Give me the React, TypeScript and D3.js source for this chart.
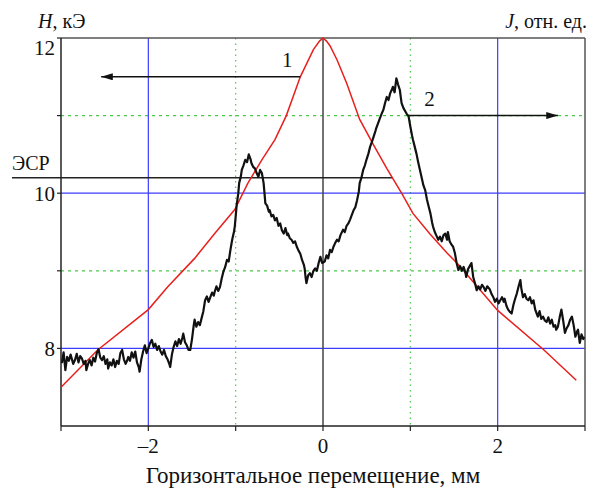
import React from 'react';
import * as d3 from 'd3';

// field profile H (curve 1) and EPR signal J (curve 2) vs horizontal shift
const xMajorTicks = [-2, 0, 2];
const xMinorTicks = [-1, 1];
const xEdgeTicks = [-3, 3];
const yMajorTicks = [8, 10, 12];
const yMinorTicks = [9, 11];
const esrLevel = 10.2;

const fieldH: [number, number][] = [
  [-3, 7.5], [-2.58, 7.98], [-2, 8.5], [-1.78, 8.79], [-1.47, 9.16], [-1.24, 9.48],
  [-1.01, 9.79], [-0.86, 10.13], [-0.7, 10.43], [-0.55, 10.69], [-0.42, 11.0],
  [-0.26, 11.5], [-0.11, 11.85], [-0.04, 11.96], [0, 12], [0.04, 11.96], [0.08, 11.9],
  [0.16, 11.72], [0.27, 11.42], [0.42, 10.95], [0.58, 10.62], [0.73, 10.32], [0.9, 10.0],
  [1.03, 9.74], [1.22, 9.48], [1.42, 9.23], [1.55, 9.08], [2.0, 8.49], [2.53, 7.98], [2.9, 7.59],
];

// J in relative units, drawn on the same vertical span as H
const signalJ: [number, number][] = [
  [-2.99, 7.81], [-2.97, 7.95], [-2.95, 7.72], [-2.93, 7.89], [-2.91, 7.84], [-2.89, 7.92],
  [-2.86, 7.8], [-2.84, 7.85], [-2.82, 7.93], [-2.8, 7.82], [-2.78, 7.9], [-2.76, 7.87],
  [-2.74, 7.8], [-2.72, 7.84], [-2.71, 7.72], [-2.69, 7.8], [-2.67, 7.85], [-2.65, 7.78],
  [-2.63, 7.88], [-2.61, 7.83], [-2.59, 7.94], [-2.57, 7.99], [-2.55, 7.88], [-2.53, 7.85],
  [-2.51, 7.9], [-2.49, 7.8], [-2.47, 7.86], [-2.46, 7.74], [-2.44, 7.82], [-2.42, 7.78],
  [-2.4, 7.86], [-2.38, 7.76], [-2.36, 7.84], [-2.34, 7.8], [-2.32, 7.94], [-2.3, 7.98],
  [-2.28, 7.86], [-2.26, 7.8], [-2.24, 7.85], [-2.23, 7.89], [-2.21, 7.84], [-2.19, 7.95],
  [-2.17, 7.88], [-2.15, 7.96], [-2.13, 7.82], [-2.11, 7.76], [-2.1, 7.7], [-2.08, 7.86],
  [-2.06, 7.96], [-2.04, 8.04], [-2.02, 7.94], [-2.0, 8.0], [-1.98, 8.07], [-1.96, 8.11],
  [-1.94, 8.02], [-1.92, 8.06], [-1.9, 7.98], [-1.88, 8.03], [-1.86, 7.96], [-1.84, 7.92],
  [-1.82, 7.98], [-1.8, 7.9], [-1.78, 7.86], [-1.76, 7.8], [-1.75, 7.76], [-1.73, 7.92],
  [-1.71, 8.02], [-1.69, 8.09], [-1.67, 8.03], [-1.65, 8.12], [-1.63, 8.06], [-1.61, 8.14],
  [-1.6, 8.19], [-1.58, 8.08], [-1.56, 8.04], [-1.54, 7.98], [-1.52, 7.98], [-1.5, 8.12],
  [-1.48, 8.3], [-1.47, 8.37], [-1.45, 8.28], [-1.43, 8.34], [-1.41, 8.3], [-1.39, 8.39],
  [-1.37, 8.48], [-1.35, 8.62], [-1.33, 8.67], [-1.31, 8.6], [-1.29, 8.66], [-1.27, 8.72],
  [-1.25, 8.68], [-1.24, 8.73], [-1.22, 8.8], [-1.2, 8.74], [-1.18, 8.79], [-1.16, 8.9],
  [-1.14, 8.99], [-1.12, 9.05], [-1.1, 9.14], [-1.08, 9.12], [-1.06, 9.27], [-1.04, 9.4],
  [-1.02, 9.5], [-1.01, 9.57], [-0.99, 9.83], [-0.97, 10.0], [-0.96, 10.13], [-0.94, 10.22],
  [-0.93, 10.3], [-0.91, 10.36], [-0.89, 10.43], [-0.87, 10.4], [-0.85, 10.5], [-0.83, 10.44],
  [-0.82, 10.39], [-0.8, 10.34], [-0.78, 10.32], [-0.76, 10.26], [-0.74, 10.21], [-0.72, 10.3],
  [-0.7, 10.26], [-0.68, 10.13], [-0.67, 10.0], [-0.66, 9.87], [-0.64, 9.84], [-0.62, 9.76],
  [-0.61, 9.78], [-0.59, 9.7], [-0.57, 9.72], [-0.55, 9.65], [-0.53, 9.68], [-0.51, 9.58],
  [-0.49, 9.61], [-0.47, 9.52], [-0.45, 9.48], [-0.43, 9.55], [-0.41, 9.46], [-0.4, 9.48],
  [-0.38, 9.42], [-0.36, 9.4], [-0.34, 9.36], [-0.32, 9.38], [-0.3, 9.31], [-0.28, 9.26],
  [-0.26, 9.22], [-0.24, 9.14], [-0.22, 9.08], [-0.21, 9.03], [-0.2, 8.92], [-0.19, 8.84],
  [-0.17, 8.94], [-0.15, 8.97], [-0.13, 8.92], [-0.11, 9.0], [-0.09, 9.03], [-0.07, 9.0],
  [-0.05, 9.1], [-0.03, 9.18], [-0.01, 9.1], [0.02, 9.12], [0.04, 9.2], [0.06, 9.16],
  [0.08, 9.27], [0.1, 9.24], [0.12, 9.31], [0.14, 9.36], [0.16, 9.4], [0.18, 9.38],
  [0.2, 9.46], [0.23, 9.53], [0.25, 9.5], [0.27, 9.58], [0.29, 9.61], [0.31, 9.66],
  [0.33, 9.72], [0.35, 9.78], [0.37, 9.82], [0.39, 9.91], [0.41, 10.02], [0.42, 10.13],
  [0.44, 10.2], [0.46, 10.3], [0.48, 10.36], [0.5, 10.44], [0.52, 10.51], [0.54, 10.6],
  [0.56, 10.66], [0.58, 10.73], [0.6, 10.8], [0.61, 10.84], [0.63, 10.9], [0.65, 10.96],
  [0.67, 11.02], [0.69, 11.07], [0.71, 11.16], [0.73, 11.24], [0.75, 11.2], [0.77, 11.29],
  [0.79, 11.34], [0.8, 11.37], [0.82, 11.3], [0.84, 11.48], [0.86, 11.4], [0.88, 11.33],
  [0.89, 11.24], [0.9, 11.16], [0.92, 11.1], [0.94, 11.06], [0.96, 11.02], [0.98, 10.99],
  [1.0, 10.86], [1.02, 10.74], [1.03, 10.69], [1.05, 10.6], [1.07, 10.51], [1.09, 10.4],
  [1.11, 10.3], [1.13, 10.2], [1.15, 10.1], [1.17, 10.04], [1.19, 9.92], [1.21, 9.83],
  [1.23, 9.74], [1.25, 9.62], [1.26, 9.57], [1.28, 9.5], [1.3, 9.45], [1.32, 9.4],
  [1.34, 9.44], [1.36, 9.38], [1.38, 9.46], [1.4, 9.48], [1.42, 9.4], [1.43, 9.5],
  [1.45, 9.38], [1.47, 9.34], [1.49, 9.31], [1.51, 9.23], [1.53, 9.1], [1.55, 9.01],
  [1.57, 9.06], [1.59, 9.0], [1.61, 9.05], [1.63, 8.98], [1.64, 8.92], [1.66, 9.02],
  [1.68, 9.06], [1.7, 9.1], [1.72, 8.92], [1.74, 8.84], [1.76, 8.75], [1.78, 8.8],
  [1.8, 8.76], [1.82, 8.82], [1.84, 8.79], [1.86, 8.74], [1.88, 8.8], [1.89, 8.79],
  [1.91, 8.76], [1.93, 8.7], [1.95, 8.66], [1.97, 8.6], [1.99, 8.64], [2.01, 8.58],
  [2.03, 8.62], [2.05, 8.66], [2.07, 8.6], [2.08, 8.64], [2.1, 8.55], [2.12, 8.5],
  [2.14, 8.47], [2.16, 8.45], [2.18, 8.56], [2.2, 8.64], [2.22, 8.71], [2.24, 8.8],
  [2.26, 8.88], [2.27, 8.78], [2.29, 8.66], [2.31, 8.7], [2.33, 8.64], [2.35, 8.62],
  [2.37, 8.66], [2.39, 8.58], [2.41, 8.62], [2.43, 8.5], [2.45, 8.44], [2.46, 8.41],
  [2.48, 8.48], [2.5, 8.38], [2.52, 8.41], [2.54, 8.36], [2.56, 8.34], [2.58, 8.4],
  [2.6, 8.32], [2.62, 8.37], [2.64, 8.28], [2.66, 8.3], [2.67, 8.24], [2.69, 8.28],
  [2.71, 8.4], [2.73, 8.5], [2.75, 8.36], [2.77, 8.2], [2.79, 8.26], [2.81, 8.3],
  [2.83, 8.37], [2.85, 8.41], [2.87, 8.3], [2.89, 8.15], [2.91, 8.22], [2.92, 8.24],
  [2.94, 8.07], [2.96, 8.18], [2.98, 8.12], [2.99, 8.15],
];

const W = 595;
const H = 489;
const font = 'Liberation Serif, Times New Roman, DejaVu Serif, Noto Serif, serif';

export default function App() {
  const x = d3.scaleLinear().domain([-3, 3]).range([61, 585]);
  const y = d3.scaleLinear().domain([7, 12]).range([426, 38]);
  const yJ = y.copy();
  const [x0, x1] = x.range();
  const [yb, yt] = y.range();

  const redLine = d3.line<[number, number]>().x((d) => x(d[0])).y((d) => y(d[1]));
  const blackLine = d3.line<[number, number]>().x((d) => x(d[0])).y((d) => yJ(d[1]));

  const blue = '#3c3cff';
  const green = '#4cc94c';
  const txt = { style: { fontFamily: font }, fill: '#111' };

  return (
    <svg width={W} height={H} style={{ position: 'absolute', left: 0, top: 0, background: '#fff', fontFamily: font }}>
      <defs>
        <marker id="ah" viewBox="0 0 10 6" refX="10" refY="3" markerWidth="12" markerHeight="7" markerUnits="userSpaceOnUse" orient="auto">
          <path d="M0,0 L10,3 L0,6 Z" fill="#111" />
        </marker>
      </defs>

      {/* grid */}
      {xMinorTicks.map((t) => (
        <line key={'gx' + t} x1={x(t)} x2={x(t)} y1={yt} y2={yb} stroke={green} strokeWidth={1.2} strokeDasharray="1.5 4" />
      ))}
      {yMinorTicks.map((t) => (
        <line key={'gy' + t} x1={x0} x2={x1} y1={y(t)} y2={y(t)} stroke={green} strokeWidth={1.2} strokeDasharray="3 4" />
      ))}
      {xMajorTicks.filter((t) => t !== 0).map((t) => (
        <line key={'bx' + t} x1={x(t)} x2={x(t)} y1={yt} y2={yb} stroke={blue} strokeWidth={1.2} />
      ))}
      {yMajorTicks.filter((t) => t !== 12).map((t) => (
        <line key={'by' + t} x1={x0} x2={x1} y1={y(t)} y2={y(t)} stroke={blue} strokeWidth={1.2} />
      ))}
      <line x1={x(0)} x2={x(0)} y1={yt} y2={yb} stroke="#444" strokeWidth={1.5} />

      {/* frame */}
      <line x1={x0} x2={x1} y1={yt} y2={yt} stroke="#555" strokeWidth={1.5} />
      <line x1={x1} x2={x1} y1={yt} y2={yb} stroke="#555" strokeWidth={1.5} />
      <line x1={x0} x2={x0} y1={yt} y2={yb} stroke="#222" strokeWidth={1.5} />
      <line x1={x0} x2={x1} y1={yb} y2={yb} stroke="#222" strokeWidth={1.5} />

      {/* ticks */}
      {[...xEdgeTicks, ...xMajorTicks, ...xMinorTicks].map((t) => (
        <line key={'tx' + t} x1={x(t)} x2={x(t)} y1={yb} y2={yb + 5} stroke="#222" strokeWidth={1.2} />
      ))}
      {[...yMajorTicks, ...yMinorTicks].map((t) => (
        <line key={'ty' + t} x1={x0 - 4} x2={x0} y1={y(t)} y2={y(t)} stroke="#222" strokeWidth={1.2} />
      ))}
      {xMajorTicks.map((t) => (
        <text key={'lx' + t} x={x(t)} y={yb + 27} textAnchor="middle" fontSize={21} {...txt}>
          {t < 0 ? '\u2013' + Math.abs(t) : t}
        </text>
      ))}
      {yMajorTicks.map((t) => (
        <text key={'ly' + t} x={x0 - 6} y={y(t) + (t === 12 ? 17 : 8)} textAnchor="end" fontSize={21} {...txt}>
          {t}
        </text>
      ))}

      {/* ESR level */}
      <line x1={12} x2={x(0.8)} y1={y(esrLevel)} y2={y(esrLevel)} stroke="#222" strokeWidth={1.6} />
      <text x={12} y={y(esrLevel) - 8} fontSize={20} {...txt}>ЭСР</text>

      {/* curves */}
      <path d={redLine(fieldH) ?? ''} fill="none" stroke="#e8201c" strokeWidth={1.5} />
      <path d={blackLine(signalJ) ?? ''} fill="none" stroke="#111" strokeWidth={2.2} strokeLinejoin="round" />

      {/* curve arrows */}
      <line x1={x(-0.26)} x2={x(-2.54)} y1={y(11.5)} y2={y(11.5)} stroke="#111" strokeWidth={1.5} markerEnd="url(#ah)" />
      <text x={x(-0.41)} y={y(11.5) - 10} textAnchor="middle" fontSize={21} {...txt}>1</text>
      <line x1={x(0.97)} x2={x(2.69)} y1={y(11)} y2={y(11)} stroke="#111" strokeWidth={1.5} markerEnd="url(#ah)" />
      <text x={x(1.22)} y={y(11) - 10} textAnchor="middle" fontSize={21} {...txt}>2</text>

      {/* axis titles */}
      <text x={38} y={28} fontSize={20} {...txt}>
        <tspan fontStyle="italic">H</tspan>, кЭ
      </text>
      <text x={587} y={28} textAnchor="end" fontSize={20} {...txt}>
        <tspan fontStyle="italic">J</tspan>, отн. ед.
      </text>
      <text x={x(0) - 10} y={483} textAnchor="middle" fontSize={23} {...txt}>
        Горизонтальное перемещение, мм
      </text>
    </svg>
  );
}
